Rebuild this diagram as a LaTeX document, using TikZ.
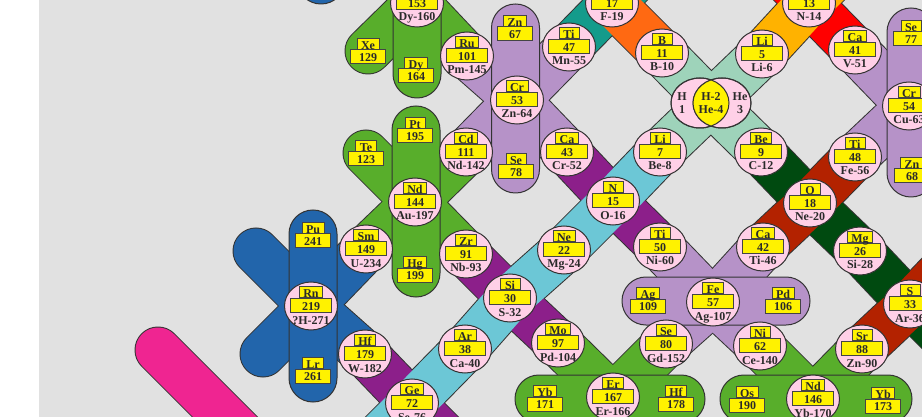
\documentclass[tikz,border=0pt]{standalone}
\usepackage{fontspec}
\setmainfont{Liberation Serif}
\usetikzlibrary{shapes.geometric}
\definecolor{bg}{HTML}{E1E1E1}
\definecolor{cgreen}{HTML}{58AE2B}
\definecolor{clilac}{HTML}{B692C8}
\definecolor{cpurple}{HTML}{8C1F8A}
\definecolor{ccyan}{HTML}{6CC7D6}
\definecolor{cblue}{HTML}{2265AB}
\definecolor{cpink}{HTML}{EF2591}
\definecolor{cteal}{HTML}{149B8B}
\definecolor{corange}{HTML}{FF6912}
\definecolor{cmint}{HTML}{9ED3BA}
\definecolor{cyorange}{HTML}{FFB200}
\definecolor{cred}{HTML}{FF0000}
\definecolor{credbr}{HTML}{B32200}
\definecolor{cdkgreen}{HTML}{004A10}
\definecolor{pinkc}{HTML}{FFD0E7}
\definecolor{outl}{HTML}{333333}
\definecolor{boxline}{HTML}{444444}
\definecolor{txt}{HTML}{2A2A2A}
\newcommand\isofont{\fontsize{12pt}{13pt}\selectfont\bfseries}
\tikzset{
  symbox/.style={draw=boxline, fill=yellow, line width=0.9pt, inner sep=0pt, inner xsep=4pt,
    text height=11pt, text depth=0pt, minimum width=20pt, anchor=south, font=\isofont, text=txt},
  numbox/.style={draw=boxline, fill=yellow, line width=0.9pt, inner sep=0pt,
    text height=12pt, text depth=2pt, minimum width=#1, anchor=north, font=\isofont, text=txt},
  lowtext/.style={inner sep=0pt, anchor=base, font=\isofont, text=txt},
  isocirc/.style={ellipse, draw=outl, fill=pinkc, line width=1pt, minimum width=53pt,
    minimum height=48pt, inner sep=0pt},
  stad/.style={draw=outl, line width=1pt, rounded corners=23.9pt, inner sep=0pt, fill=#1},
}
\newcommand\mkiso[4]{%
  \node[isocirc] (#1-c) at (#1) {};
  \node[numbox=41pt] (#1-n) at ([yshift=8pt]#1) {#3};
  \node[symbox] (#1-s) at ([yshift=8pt]#1) {#2};
  \node[lowtext] (#1-t) at ([yshift=-18pt]#1) {#4};
}
\newcommand\mklab[4]{%
  \coordinate (#1) at #2;
  \node[numbox=35pt] (#1-n) at ([yshift=1.5pt]#1) {#4};
  \node[symbox] (#1-s) at ([yshift=1.5pt]#1) {#3};
}
\newcommand\allbands{%
  \draw[bd=cpink] (capA) -- (offA);
  \draw[bd=cblue] (capB1) -- (Rn) -- (Hf);
  \draw[bd=cpurple] (Hf) -- (Ge) -- (offB);
  \draw[bd=cblue] (capB2) -- (Rn) -- (Sm);
  \draw[bd=cgreen] (Sm) -- (Nd144) -- (Cd);
  \draw[bd=clilac] (Cd) -- (Cr53) -- (Ti47);
  \draw[bd=cteal] (Ti47) -- (F19) -- (offP);
  \draw[bd=cgreen] (Te) -- (Nd144) -- (Zr);
  \draw[bd=cpurple] (Zr) -- (Si) -- (Mo);
  \draw[bd=cgreen] (Mo) -- (Er);
  \draw[bd=cgreen] (Xe) -- (Dy160);
  \draw[bd=cgreen] (Dy160) -- (Ru);
  \draw[bd=clilac] (Ru) -- (Cr53) -- (Ca43);
  \draw[bd=cpurple] (Ca43) -- (N15) -- (Ti50);
  \draw[bd=clilac] (Ti50) -- (Fe57) -- (Ni62);
  \draw[bd=cgreen] (Ni62) -- (Nd146);
  \draw[bd=corange] (F19) -- (B11);
  \draw[bd=cmint] (B11) -- (Hx) -- (Be9);
  \draw[bd=cdkgreen] (Be9) -- (O18) -- (Mg26) -- (S33) -- (offE);
  \draw[bd=cred] (offF) -- (N14) -- (Ca41);
  \draw[bd=clilac] (Ca41) -- (Cr54);
  \draw[bd=ccyan] (offQ) -- (Ge) -- (Ar) -- (Si) -- (Ne22) -- (N15) -- (Li7);
  \draw[bd=cmint] (Li7) -- (Hx) -- (Li5);
  \draw[bd=cyorange] (Li5) -- (N14) -- (offQ2);
  \draw[bd=cgreen] (Er) -- (Se80);
  \draw[bd=clilac] (Se80) -- (Fe57) -- (Ca42);
  \draw[bd=credbr] (Ca42) -- (O18) -- (Ti48);
  \draw[bd=clilac] (Ti48) -- (Cr54);
  \draw[bd=cgreen] (Nd146) -- (Sr88);
  \draw[bd=credbr] (Sr88) -- (S33) -- (offS);
}
\begin{document}
\begin{tikzpicture}[x=1pt,y=-1pt]
\useasboundingbox (0,0) rectangle (922,417);
\fill[white] (0,0) rectangle (922,417);
\fill[bg] (39,0) rectangle (922,417);
\begin{scope}
\clip (39,0) rectangle (922,417);
% lattice points
\coordinate (capA) at (158,350);   \coordinate (offA) at (300,492);
\coordinate (capB1) at (256,251);  \coordinate (Rn) at (311,306);
\coordinate (Hf) at (365,354);     \coordinate (Ge) at (412,403);
\coordinate (offB) at (480,471);   \coordinate (capB2) at (263,354);
\coordinate (Sm) at (366,249);     \coordinate (Nd144) at (415,202);
\coordinate (Cd) at (466,152);     \coordinate (Cr53) at (517,100);
\coordinate (Ti47) at (569,47);    \coordinate (F19) at (612,3);
\coordinate (offP) at (680,-65);   \coordinate (Te) at (366,153);
\coordinate (Zr) at (466,254);     \coordinate (Si) at (510,298);
\coordinate (Mo) at (558,343);     \coordinate (Er) at (613,397);
\coordinate (Xe) at (368,51);      \coordinate (Dy160) at (417,3);
\coordinate (Ru) at (467,56);      \coordinate (Ca43) at (567,152);
\coordinate (N15) at (613,201);    \coordinate (Ti50) at (660,247);
\coordinate (Fe57) at (713,302);   \coordinate (Ni62) at (760,346);
\coordinate (Nd146) at (813,399);  \coordinate (B11) at (662,53);
\coordinate (Hx) at (711,103);     \coordinate (Be9) at (761,152);
\coordinate (O18) at (810,203);    \coordinate (Mg26) at (860,251);
\coordinate (S33) at (910,304);    \coordinate (offE) at (980,374);
\coordinate (offF) at (750,-56);   \coordinate (N14) at (809,3);
\coordinate (Ca41) at (855,50);    \coordinate (Cr54) at (909,106);
\coordinate (offQ) at (350,465);   \coordinate (Ar) at (465,349);
\coordinate (Ne22) at (564,250);   \coordinate (Li7) at (660,152);
\coordinate (Li5) at (762,54);     \coordinate (offQ2) at (880,-68);
\coordinate (Se80) at (666,344);   \coordinate (Ca42) at (763,247);
\coordinate (Ti48) at (855,157);   \coordinate (Sr88) at (862,349);
\coordinate (offS) at (980,231);
\coordinate (Hl) at (700,103);     \coordinate (Hr) at (722,103);
% bands: outlines, then fills
\begin{scope}[bd/.style={line width=47pt, draw=outl, line cap=round, line join=round}]
\allbands
\end{scope}
\begin{scope}[bd/.style={line width=45pt, draw=#1, line cap=round, line join=round}]
\allbands
\end{scope}
% stadiums
\node[stad=cgreen, minimum width=48pt, minimum height=178pt] (DyStad) at (417,9) {};
\node[stad=cgreen, minimum width=48pt, minimum height=191pt] (PtStad) at (416,201.5) {};
\node[stad=clilac, minimum width=48pt, minimum height=189pt] (ZnStad) at (515.5,98.5) {};
\node[stad=clilac, minimum width=48pt, minimum height=189pt] (SeStad) at (911,102.5) {};
\node[stad=cblue, minimum width=48pt, minimum height=192pt] (PuStad) at (313,306) {};
\node[stad=clilac, minimum width=188pt, minimum height=48pt] (AgStad) at (716,301) {};
\node[stad=cgreen, minimum width=190pt, minimum height=48pt] (YbStad) at (610,399) {};
\node[stad=cgreen, minimum width=192pt, minimum height=48pt] (OsStad) at (816,399) {};
\node[stad=cblue, minimum width=48pt, minimum height=104pt] (TopBlob) at (321,-48) {};
% isotope circles
\mkiso{Dy160}{}{153}{Dy-160}
\mkiso{Ru}{Ru}{101}{Pm-145}
\mkiso{Ti47}{Ti}{47}{Mn-55}
\mkiso{F19}{}{17}{F-19}
\mkiso{B11}{B}{11}{B-10}
\mkiso{Li5}{Li}{5}{Li-6}
\mkiso{N14}{}{13}{N-14}
\mkiso{Ca41}{Ca}{41}{V-51}
\mkiso{Cr53}{Cr}{53}{Zn-64}
\mkiso{Cr54}{Cr}{54}{Cu-63}
\mkiso{Cd}{Cd}{111}{Nd-142}
\mkiso{Ca43}{Ca}{43}{Cr-52}
\mkiso{Li7}{Li}{7}{Be-8}
\mkiso{Be9}{Be}{9}{C-12}
\mkiso{Ti48}{Ti}{48}{Fe-56}
\mkiso{Nd144}{Nd}{144}{Au-197}
\mkiso{N15}{N}{15}{O-16}
\mkiso{O18}{O}{18}{Ne-20}
\mkiso{Sm}{Sm}{149}{U-234}
\mkiso{Zr}{Zr}{91}{Nb-93}
\mkiso{Ne22}{Ne}{22}{Mg-24}
\mkiso{Ti50}{Ti}{50}{Ni-60}
\mkiso{Ca42}{Ca}{42}{Ti-46}
\mkiso{Mg26}{Mg}{26}{Si-28}
\mkiso{Rn}{Rn}{219}{?H-271}
\mkiso{Si}{Si}{30}{S-32}
\mkiso{Fe57}{Fe}{57}{Ag-107}
\mkiso{S33}{S}{33}{Ar-36}
\mkiso{Hf}{Hf}{179}{W-182}
\mkiso{Ar}{Ar}{38}{Ca-40}
\mkiso{Mo}{Mo}{97}{Pd-104}
\mkiso{Se80}{Se}{80}{Gd-152}
\mkiso{Ni62}{Ni}{62}{Ce-140}
\mkiso{Sr88}{Sr}{88}{Zn-90}
\mkiso{Ge}{Ge}{72}{Se-76}
\mkiso{Er}{Er}{167}{Er-166}
\mkiso{Nd146}{Nd}{146}{Yb-170}
% H / He pair
\node[isocirc, minimum width=58pt, minimum height=50pt] (HLc) at (Hl) {};
\node[isocirc, minimum width=58pt, minimum height=50pt] (HRc) at (Hr) {};
\begin{scope}
  \clip (Hl) ellipse [x radius=29pt, y radius=25pt];
  \fill[yellow] (Hr) ellipse [x radius=29pt, y radius=25pt];
\end{scope}
\draw[outl, line width=1pt] (Hl) ellipse [x radius=29pt, y radius=25pt];
\draw[outl, line width=1pt] (Hr) ellipse [x radius=29pt, y radius=25pt];
\node[font=\isofont, text=txt, align=center, inner sep=0pt] (Hlab) at (682,103) {H\\1};
\node[font=\isofont, text=txt, align=center, inner sep=0pt] (HHelab) at (711,103) {H-2\\He-4};
\node[font=\isofont, text=txt, align=center, inner sep=0pt] (Helab) at (740,103) {He\\3};
% labels without circles
\mklab{Zn67}{(515,28)}{Zn}{67}
\mklab{Se78}{(516,166)}{Se}{78}
\mklab{Xe129}{(368,51)}{Xe}{129}
\mklab{Dy164}{(416,70)}{Dy}{164}
\mklab{Te123}{(366,153)}{Te}{123}
\mklab{Pt195}{(415,130)}{Pt}{195}
\mklab{Hg199}{(415,269)}{Hg}{199}
\mklab{Pu241}{(313,235)}{Pu}{241}
\mklab{Lr261}{(313,370)}{Lr}{261}
\mklab{Ag109}{(648,300)}{Ag}{109}
\mklab{Pd106}{(783,300)}{Pd}{106}
\mklab{Yb171}{(545,398)}{Yb}{171}
\mklab{Hf178}{(676,398)}{Hf}{178}
\mklab{Os190}{(747,399)}{Os}{190}
\mklab{Yb173}{(883,400)}{Yb}{173}
\mklab{Se77}{(911,33)}{Se}{77}
\mklab{Zn68}{(912,170)}{Zn}{68}
\end{scope}
\end{tikzpicture}
\end{document}
